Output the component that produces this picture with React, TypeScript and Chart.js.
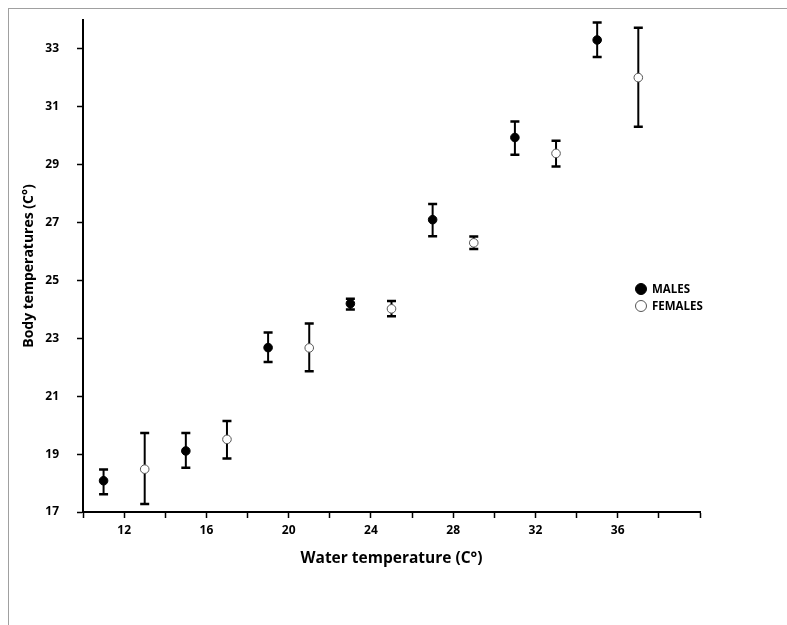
import React, { useEffect, useRef } from "react";
import { Chart, registerables } from "chart.js";

Chart.register(...registerables);

const maleX = [11, 15, 19, 23, 27, 31, 35];
const maleY = [18.08, 19.11, 22.68, 24.2, 27.1, 29.94, 33.31];
const maleLow = [17.61, 18.53, 22.18, 24.0, 26.53, 29.34, 32.72];
const maleHigh = [18.47, 19.73, 23.2, 24.37, 27.64, 30.49, 33.91];

const femaleX = [13, 17, 21, 25, 29, 33, 37];
const femaleY = [18.48, 19.51, 22.67, 24.02, 26.3, 29.39, 32.01];
const femaleLow = [17.28, 18.85, 21.86, 23.76, 26.09, 28.94, 30.31];
const femaleHigh = [19.73, 20.14, 23.51, 24.29, 26.52, 29.83, 33.73];

const xTicks = [10, 12, 14, 16, 18, 20, 22, 24, 26, 28, 30, 32, 34, 36, 38, 40];
const xLabels = [12, 16, 20, 24, 28, 32, 36];
const yTicks = [17, 19, 21, 23, 25, 27, 29, 31, 33];

const seriesNames = ["MALES", "FEMALES"];
const FONT = "'Open Sans', 'DejaVu Sans', sans-serif";

const errorBarPlugin = {
  id: "errorBars",
  beforeDatasetsDraw(chart: any) {
    const { ctx, scales } = chart;
    const sets = [
      { xs: maleX, lo: maleLow, hi: maleHigh },
      { xs: femaleX, lo: femaleLow, hi: femaleHigh },
    ];
    ctx.save();
    ctx.strokeStyle = "#000";
    sets.forEach((s) => {
      s.xs.forEach((xv, i) => {
        const x = scales.x.getPixelForValue(xv);
        const yl = scales.y.getPixelForValue(s.lo[i]);
        const yh = scales.y.getPixelForValue(s.hi[i]);
        ctx.lineWidth = 2;
        ctx.beginPath();
        ctx.moveTo(x, yl);
        ctx.lineTo(x, yh);
        ctx.stroke();
        ctx.lineWidth = 2.5;
        ctx.beginPath();
        ctx.moveTo(x - 4.5, yl);
        ctx.lineTo(x + 4.5, yl);
        ctx.moveTo(x - 4.5, yh);
        ctx.lineTo(x + 4.5, yh);
        ctx.stroke();
      });
    });
    ctx.restore();
  },
};

const legendPlugin = {
  id: "customLegend",
  afterDraw(chart: any) {
    const { ctx } = chart;
    ctx.save();
    const cx = 632;
    const rows = [
      { y: 280, fill: "#000", stroke: "#000" },
      { y: 297, fill: "#fff", stroke: "#555" },
    ];
    rows.forEach((r, i) => {
      ctx.beginPath();
      ctx.arc(cx, r.y, 5.5, 0, Math.PI * 2);
      ctx.fillStyle = r.fill;
      ctx.fill();
      ctx.lineWidth = 1;
      ctx.strokeStyle = r.stroke;
      ctx.stroke();
      ctx.fillStyle = "#000";
      ctx.font = `bold 11.5px ${FONT}`;
      ctx.textBaseline = "middle";
      ctx.textAlign = "left";
      ctx.fillText(seriesNames[i], cx + 11, r.y + 1);
    });
    ctx.restore();
  },
};

export default function App() {
  const ref = useRef<HTMLCanvasElement>(null);
  useEffect(() => {
    if (!ref.current) return;
    const chart = new Chart(ref.current, {
      type: "scatter",
      data: {
        datasets: [
          {
            label: seriesNames[0],
            data: maleX.map((x, i) => ({ x, y: maleY[i] })),
            backgroundColor: "#000",
            borderColor: "#000",
            borderWidth: 1,
            pointRadius: 4.3,
          },
          {
            label: seriesNames[1],
            data: femaleX.map((x, i) => ({ x, y: femaleY[i] })),
            backgroundColor: "#fff",
            borderColor: "#555",
            borderWidth: 1,
            pointRadius: 4.3,
          },
        ],
      },
      options: {
        responsive: false,
        animation: false,
        layout: { padding: { left: 0, top: 11, right: 87, bottom: 57 } },
        plugins: {
          legend: { display: false },
          tooltip: { enabled: false },
        },
        scales: {
          x: {
            type: "linear",
            min: 10,
            max: 40,
            afterBuildTicks: (s: any) => {
              s.ticks = xTicks.map((v) => ({ value: v }));
            },
            afterFit: (s: any) => {
              s.height = 56;
            },
            border: { display: true, color: "#000", width: 2 },
            grid: {
              drawOnChartArea: false,
              drawTicks: true,
              tickLength: 6,
              tickColor: "#000",
              tickWidth: 1.5,
            },
            ticks: {
              autoSkip: false,
              maxRotation: 0,
              padding: 5,
              color: "#000",
              font: { family: FONT, size: 12, weight: "bold" },
              callback: (v: any) => (xLabels.includes(Number(v)) ? String(v) : ""),
            },
            title: {
              display: true,
              text: "Water temperature (C°)",
              color: "#000",
              font: { family: FONT, size: 15.5, weight: "bold" },
              padding: { top: 0, bottom: 0 },
            },
          },
          y: {
            type: "linear",
            min: 17,
            max: 34,
            afterBuildTicks: (s: any) => {
              s.ticks = yTicks.map((v) => ({ value: v }));
            },
            afterFit: (s: any) => {
              s.width = 74;
              s.paddingTop = 0;
              s.paddingBottom = 0;
            },
            border: { display: true, color: "#000", width: 2 },
            grid: {
              drawOnChartArea: false,
              drawTicks: true,
              tickLength: 6,
              tickColor: "#000",
              tickWidth: 1.5,
            },
            ticks: {
              autoSkip: false,
              padding: 18,
              color: "#000",
              font: { family: FONT, size: 12, weight: "bold" },
              callback: (v: any) => String(v),
            },
            title: {
              display: true,
              text: "Body temperatures (C°)",
              color: "#000",
              font: { family: FONT, size: 14, weight: "bold" },
              padding: { top: 12, bottom: 0 },
            },
          },
        },
      },
      plugins: [errorBarPlugin, legendPlugin],
    });
    return () => chart.destroy();
  }, []);

  return (
    <div
      style={{
        position: "fixed",
        left: 8,
        top: 8,
        width: 779,
        height: 617,
        borderTop: "1px solid #a0a0a0",
        borderLeft: "1px solid #a0a0a0",
        background: "#fff",
      }}
    >
      <canvas ref={ref} width={778} height={616} style={{ display: "block" }} />
    </div>
  );
}
